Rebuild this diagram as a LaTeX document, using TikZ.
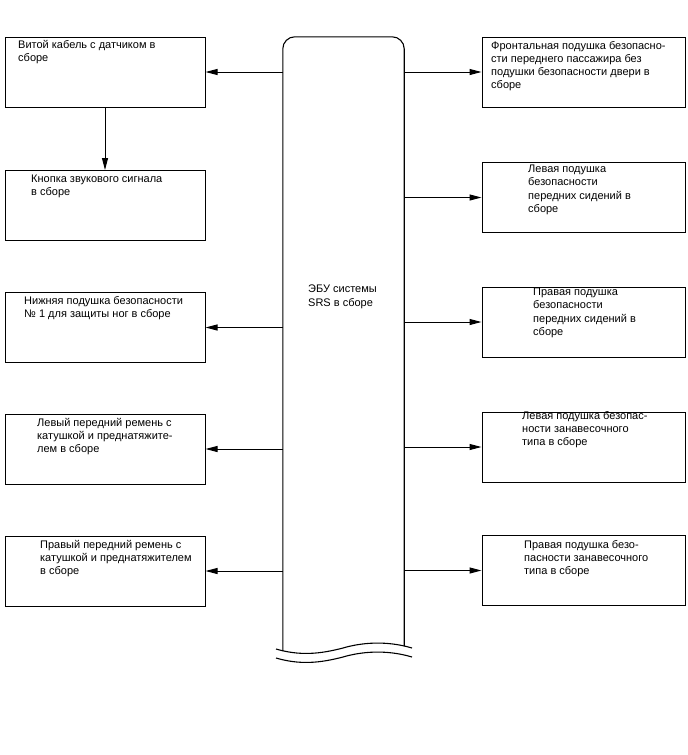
\documentclass[tikz,border=0pt]{standalone}
\usepackage{fontspec}
\setmainfont{Liberation Sans}
\usetikzlibrary{arrows.meta,positioning,calc}

\begin{document}
\begin{tikzpicture}[x=1pt, y=-1pt,
  unit/.style={draw, line width=1pt, minimum width=200pt, minimum height=70pt, inner sep=0pt},
  txt/.style={anchor=north west, inner sep=0pt, align=left, font=\fontsize{11}{13.2}\selectfont,
    execute at begin node={\rule{0pt}{10pt}}},
  feed/.style={-{Triangle[length=12pt,width=6pt]}, line width=1pt}
]
\useasboundingbox (0,0) rectangle (688,755);

% ECU column
\node[minimum width=121pt, minimum height=613pt, inner sep=0pt] (ecu) at (343.5,343.5) {};
\draw[line width=1.1pt, rounded corners=12pt] ($(ecu.south west)+(0,1)$) -- (ecu.north west) -- (ecu.north east) -- ($(ecu.south east)+(0,-4)$);
\draw[line width=1.1pt] (276,649) .. controls (300,656) and (320,654) .. (343,648) .. controls (360,643) and (385,640) .. (412,648);
\draw[line width=1.1pt] (276,658) .. controls (300,665) and (320,663) .. (343,657) .. controls (360,652) and (385,649) .. (412,657);
\node[txt] (ecutxt) at (308,285) {ЭБУ системы\\SRS в сборе};

% left column
\node[unit] (l1) at (105,72) {};
\node[unit] (l2) at (105,205.5) {};
\node[unit] (l3) at (105,327.5) {};
\node[unit] (l4) at (105,449) {};
\node[unit] (l5) at (105,571) {};
\node[txt] (l1txt) at (18,40) {Витой кабель с датчиком в\\сборе};
\node[txt] (l2txt) at (31,175) {Кнопка звукового сигнала\\в сборе};
\node[txt] (l3txt) at (24,296) {Нижняя подушка безопасности\\№ 1 для защиты ног в сборе};
\node[txt] (l4txt) at (37,418) {Левый передний ремень с\\катушкой и преднатяжите-\\лем в сборе};
\node[txt] (l5txt) at (40,540) {Правый передний ремень с\\катушкой и преднатяжителем\\в сборе};

% right column
\node[unit, minimum width=203pt] (r1) at (583.5,72) {};
\node[unit, minimum width=203pt] (r2) at (583.5,197.5) {};
\node[unit, minimum width=203pt] (r3) at (583.5,322) {};
\node[unit, minimum width=203pt] (r4) at (583.5,447) {};
\node[unit, minimum width=203pt] (r5) at (583.5,570.5) {};
\node[txt] (r1txt) at (491,41) {Фронтальная подушка безопасно-\\сти переднего пассажира без\\подушки безопасности двери в\\сборе};
\node[txt] (r2txt) at (528,165) {Левая подушка\\безопасности\\передних сидений в\\сборе};
\node[txt] (r3txt) at (533,288) {Правая подушка\\безопасности\\передних сидений в\\сборе};
\node[txt] (r4txt) at (522,411) {Левая подушка безопас-\\ности занавесочного\\типа в сборе};
\node[txt] (r5txt) at (524,540) {Правая подушка безо-\\пасности занавесочного\\типа в сборе};

% connections
\draw[feed] (l1.south) -- (l2.north);
\foreach \b in {l1,l3,l4,l5}
  \draw[feed] (\b.east -| ecu.west) -- (\b.east);
\foreach \b in {r1,r2,r3,r4,r5}
  \draw[feed] (\b.west -| ecu.east) -- (\b.west);
\end{tikzpicture}
\end{document}
